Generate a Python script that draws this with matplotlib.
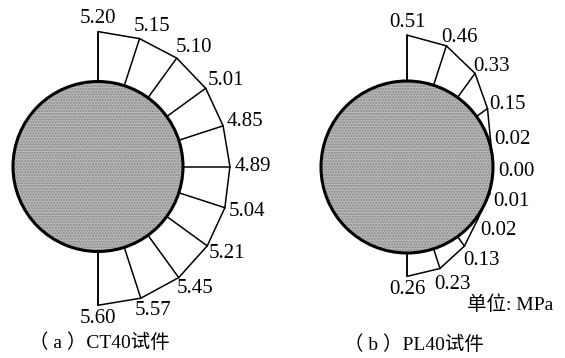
import numpy as np
import matplotlib.pyplot as plt
from matplotlib.patches import Circle, Polygon

plt.rcParams['font.family'] = ['Liberation Serif', 'Noto Sans CJK SC']

# stress values around the circle, from top (90 deg) to bottom (-90 deg)
angles = [90, 72, 54, 36, 18, 0, -18, -36, -54, -72, -90]
ct40 = [5.20, 5.15, 5.10, 5.01, 4.85, 4.89, 5.04, 5.21, 5.45, 5.57, 5.60]
pl40 = [0.51, 0.46, 0.33, 0.15, 0.02, 0.00, 0.01, 0.02, 0.13, 0.23, 0.26]
captions = ['（ a ）CT40试件', '（ b ）PL40试件']
unit_label = '单位: MPa'

fig = plt.figure(figsize=(5.65, 3.58), dpi=100)
ax = fig.add_axes([0, 0, 1, 1])
ax.set_xlim(0, 565)
ax.set_ylim(358, 0)
ax.set_aspect('equal')
ax.axis('off')


def draw_panel(cx, cy, r, vals, scale, ybias):
    th = np.radians(angles)
    v = np.array(vals)
    ox = cx + (r + v * scale) * np.cos(th)
    oy = cy - (r + v * scale) * np.sin(th)
    ix = cx + r * np.cos(th)
    iy = cy - r * np.sin(th)
    # outline of the stress block
    pts = list(zip(ix[::-1], iy[::-1])) + list(zip(ox, oy))
    ax.add_patch(Polygon(pts, closed=True, facecolor='white',
                         edgecolor='black', lw=1.1, zorder=1))
    for i in range(len(v)):
        ax.plot([ix[i], ox[i]], [iy[i], oy[i]], color='black', lw=1.1, zorder=2)
    ax.add_patch(Circle((cx, cy), r, facecolor='#bababa', edgecolor='none', zorder=3))
    ax.add_patch(Circle((cx, cy), r, facecolor='none', edgecolor='#858585',
                        hatch='......', lw=0, zorder=4))
    ax.add_patch(Circle((cx, cy), r, facecolor='none', edgecolor='black',
                        lw=2.2, zorder=5))
    for i in range(len(v)):
        c = np.cos(th[i])
        dx = 0 if abs(c) < 0.01 else 8 + 15 * c
        dy = -13 * np.sin(th[i]) + (0 if abs(c) < 0.01 else ybias)
        ax.text(ox[i] + dx, oy[i] + dy, f'{vals[i]:.2f}', fontsize=15,
                ha='center', va='center', zorder=6)


draw_panel(98, 166.5, 85, ct40, 9.6, 0)
draw_panel(407, 167, 86, pl40, 90, 4)

ax.text(99, 343, captions[0], fontsize=14, ha='center', va='center')
ax.text(414, 345, captions[1], fontsize=14, ha='center', va='center')
ax.text(510, 305, unit_label, fontsize=14, ha='center', va='center')

fig.savefig('out.png', dpi=100)
